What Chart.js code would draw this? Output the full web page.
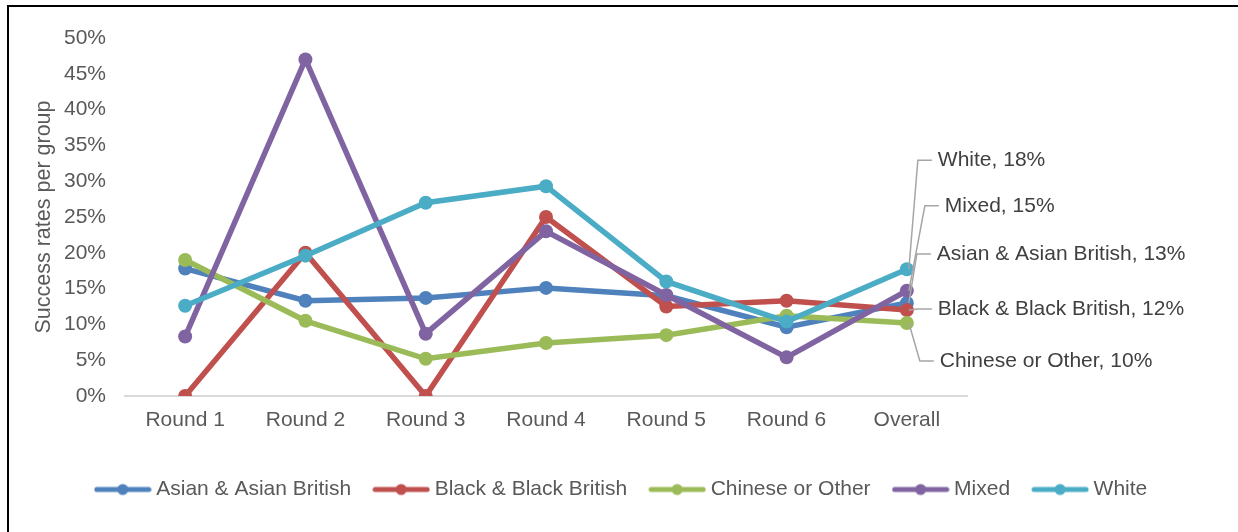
<!DOCTYPE html>
<html>
<head>
<meta charset="utf-8">
<script src="https://cdn.jsdelivr.net/npm/chart.js@4"></script>
<style>
  html, body { margin: 0; padding: 0; background: #fff; }
  #wrap { position: relative; width: 1238px; height: 532px; overflow: hidden; }
  #frame { position: absolute; left: 7px; top: 5px; width: 1300px; height: 600px;
           border-left: 2px solid #000; border-top: 2px solid #000; pointer-events: none; }
</style>
</head>
<body>
<div id="wrap">
  <canvas id="lineChart" width="1238" height="532"></canvas>
  <div id="frame"></div>
</div>
<script>
var rounds = ['Round 1', 'Round 2', 'Round 3', 'Round 4', 'Round 5', 'Round 6', 'Overall'];
var groups = ['Asian & Asian British', 'Black & Black British', 'Chinese or Other', 'Mixed', 'White'];
var colors = ['#4F81BD', '#C0504D', '#9BBB59', '#8064A2', '#4BACC6'];

// success rates in %
var asian   = [17.8, 13.3, 13.7, 15.1, 14.0, 9.6, 13.0];
var black   = [0, 20.0, 0, 25.0, 12.5, 13.3, 12.0];
var chinese = [19.0, 10.5, 5.2, 7.4, 8.5, 11.2, 10.2];
var mixed   = [8.3, 47.0, 8.7, 23.0, 14.1, 5.4, 14.7];
var white   = [12.6, 19.6, 27.0, 29.3, 16.0, 10.4, 17.7];
var series = [asian, black, chinese, mixed, white];

var yTicks = [0, 5, 10, 15, 20, 25, 30, 35, 40, 45, 50];

var fontFamily = '"Liberation Sans", Arial, sans-serif';

// legend marker: line with a dot
function legendMarker(color) {
    var c = document.createElement('canvas');
    c.width = 58; c.height = 14;
    var g = c.getContext('2d');
    g.strokeStyle = color;
    g.lineWidth = 5;
    g.lineCap = 'round';
    g.beginPath(); g.moveTo(3, 7); g.lineTo(55, 7); g.stroke();
    g.fillStyle = color;
    g.beginPath(); g.arc(29, 7, 5.5, 0, Math.PI * 2); g.fill();
    return c;
}
var markers = colors.map(legendMarker);

// end labels: offsets from the last point (Excel moved them apart)
var labelDy = [-49, -1, 38, -85, -109];
var labelDx = [30, 31, 33, 38, 31];

var endLabels = {
    id: 'endLabels',
    afterDatasetsDraw: function(chart) {
        var ctx = chart.ctx;
        ctx.save();
        ctx.font = '21px ' + fontFamily;
        ctx.textBaseline = 'middle';
        ctx.textAlign = 'left';
        chart.data.datasets.forEach(function(ds, i) {
            var pts = chart.getDatasetMeta(i).data;
            var p = pts[pts.length - 1];
            var tx = p.x + labelDx[i];
            var ty = p.y + labelDy[i];
            ctx.strokeStyle = '#A6A6A6';
            ctx.lineWidth = 1.5;
            ctx.beginPath();
            ctx.moveTo(p.x + 2, p.y);
            ctx.lineTo(tx - 20, ty);
            ctx.lineTo(tx - 6, ty);
            ctx.stroke();
            var v = ds.data[ds.data.length - 1];
            ctx.fillStyle = '#404040';
            ctx.fillText(ds.label + ', ' + Math.round(v) + '%', tx, ty);
        });
        ctx.restore();
    }
};

var datasets = groups.map(function(name, i) {
    return {
        label: name,
        data: series[i],
        borderColor: colors[i],
        backgroundColor: colors[i],
        pointBackgroundColor: colors[i],
        pointBorderColor: colors[i],
        borderWidth: 5.5,
        pointRadius: 7,
        pointBorderWidth: 0,
        tension: 0,
        order: groups.length - 1 - i
    };
});

var lineChart = new Chart(document.getElementById('lineChart').getContext('2d'), {
    type: 'line',
    data: { labels: rounds, datasets: datasets },
    plugins: [endLabels],
    options: {
        responsive: false,
        animation: false,
        layout: { padding: { top: 38, right: 0, bottom: 22, left: 9 } },
        scales: {
            x: {
                offset: true,
                grid: { display: false, drawTicks: false },
                border: { display: true, color: '#D9D9D9', width: 2 },
                ticks: { color: '#595959', padding: 12, font: { family: fontFamily, size: 21 } },
                afterFit: function(scale) { scale.height = 56; }
            },
            y: {
                min: 0,
                max: 50,
                afterBuildTicks: function(scale) {
                    scale.ticks = yTicks.map(function(v) { return { value: v }; });
                },
                grid: { display: false, drawTicks: false },
                border: { display: false },
                ticks: {
                    autoSkip: false,
                    color: '#595959', padding: 19,
                    font: { family: fontFamily, size: 21 },
                    callback: function(v) { return v + '%'; }
                },
                title: {
                    display: true,
                    text: 'Success rates per group',
                    color: '#595959',
                    font: { family: fontFamily, size: 21.5 },
                    padding: { top: 22, bottom: 0 }
                },
                afterFit: function(scale) { scale.width = 116; }
            },
            // empty space on the right for the end labels
            labelSpace: {
                type: 'linear',
                position: 'right',
                display: true,
                grid: { display: false, drawTicks: false },
                border: { display: false },
                ticks: { display: false },
                afterFit: function(scale) { scale.width = 271; }
            }
        },
        plugins: {
            tooltip: { enabled: false },
            legend: {
                display: true,
                position: 'bottom',
                labels: {
                    usePointStyle: true,
                    pointStyleWidth: 46,
                    color: '#595959',
                    padding: 27,
                    font: { family: fontFamily, size: 21 },
                    sort: function(a, b) { return a.datasetIndex - b.datasetIndex; },
                    generateLabels: function(chart) {
                        var items = Chart.defaults.plugins.legend.labels.generateLabels(chart);
                        items.forEach(function(it) { it.pointStyle = markers[it.datasetIndex]; });
                        return items;
                    }
                }
            }
        }
    }
});
</script>
</body>
</html>
